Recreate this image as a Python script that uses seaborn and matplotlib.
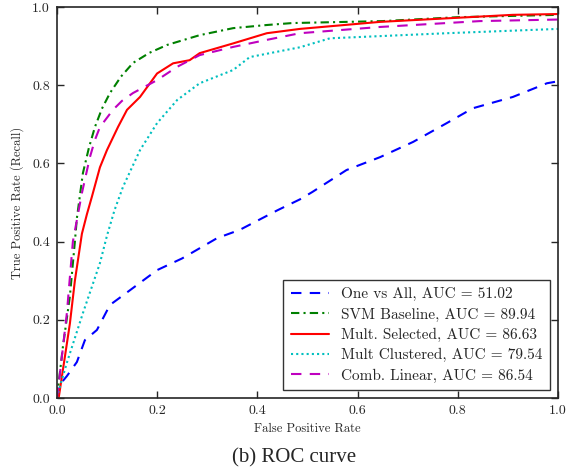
import matplotlib
matplotlib.use('Agg')
import matplotlib.pyplot as plt
import seaborn as sns
import pandas as pd

# ROC curves
ova_fpr = [0.0, 0.002, 0.02, 0.04, 0.056, 0.08, 0.106, 0.14, 0.2, 0.25, 0.32, 0.365, 0.44, 0.485,
           0.51, 0.578, 0.645, 0.711, 0.778, 0.83, 0.91, 0.978, 1.0]
ova_tpr = [0.0, 0.028, 0.056, 0.092, 0.148, 0.174, 0.238, 0.27, 0.327, 0.357, 0.409, 0.43, 0.48, 0.508,
           0.527, 0.583, 0.616, 0.655, 0.703, 0.741, 0.77, 0.805, 0.81]

svm_fpr = [0.0, 0.002, 0.012, 0.026, 0.036, 0.04, 0.052, 0.064, 0.076, 0.09, 0.106, 0.128, 0.152,
           0.185, 0.22, 0.285, 0.352, 0.419, 0.47, 0.65, 0.8, 1.0]
svm_tpr = [0.0, 0.02, 0.13, 0.26, 0.40, 0.46, 0.575, 0.64, 0.693, 0.74, 0.78, 0.822, 0.857,
           0.883, 0.903, 0.928, 0.946, 0.954, 0.959, 0.964, 0.974, 0.98]

sel_fpr = [0.0, 0.004, 0.026, 0.036, 0.05, 0.06, 0.07, 0.086, 0.1, 0.122, 0.14, 0.166, 0.183, 0.2,
           0.232, 0.265, 0.285, 0.352, 0.419, 0.485, 0.645, 0.91, 1.0]
sel_tpr = [0.0, 0.003, 0.19, 0.30, 0.42, 0.47, 0.515, 0.59, 0.634, 0.693, 0.737, 0.77, 0.80, 0.83,
           0.856, 0.864, 0.882, 0.907, 0.933, 0.944, 0.962, 0.98, 0.982]

clu_fpr = [0.0, 0.004, 0.02, 0.052, 0.086, 0.1, 0.115, 0.132, 0.166, 0.2, 0.24, 0.285, 0.352, 0.385,
           0.485, 0.545, 0.778, 1.0]
clu_tpr = [0.0, 0.02, 0.09, 0.217, 0.345, 0.415, 0.48, 0.54, 0.634, 0.703, 0.762, 0.805, 0.839, 0.872,
           0.897, 0.92, 0.933, 0.944]

lin_fpr = [0.0, 0.004, 0.02, 0.032, 0.05, 0.066, 0.076, 0.086, 0.112, 0.13, 0.152, 0.2, 0.24, 0.285,
           0.352, 0.419, 0.485, 0.645, 0.844, 1.0]
lin_tpr = [0.0, 0.038, 0.217, 0.40, 0.524, 0.616, 0.66, 0.693, 0.737, 0.76, 0.78, 0.813, 0.847, 0.877,
           0.898, 0.916, 0.933, 0.949, 0.964, 0.968]

labels = ['One vs All, AUC = 51.02', 'SVM Baseline, AUC = 89.94', 'Mult. Selected, AUC = 86.63',
          'Mult Clustered, AUC = 79.54', 'Comb. Linear, AUC = 86.54']

sns.set_style('ticks')
plt.rcParams['font.family'] = ['cmr10', 'DejaVu Serif']
plt.rcParams['axes.formatter.use_mathtext'] = True
plt.rcParams['mathtext.fontset'] = 'cm'

fig = plt.figure(figsize=(5.8, 4.68), dpi=100)
ax = fig.add_axes([0.098, 0.1496, 0.864, 0.8354])

series = [
    (ova_fpr, ova_tpr, 'b', (0, (5, 4))),
    (svm_fpr, svm_tpr, 'g', (0, (4, 2, 1, 2))),
    (sel_fpr, sel_tpr, 'r', '-'),
    (clu_fpr, clu_tpr, 'c', (0, (1, 1.5))),
    (lin_fpr, lin_tpr, 'm', (0, (5, 4))),
]
for (fx, fy, col, ls), lab in zip(series, labels):
    df = pd.DataFrame({'fpr': fx, 'tpr': fy})
    sns.lineplot(data=df, x='fpr', y='tpr', ax=ax, color=col, linestyle=ls, linewidth=1.5,
                 label=lab, estimator=None, sort=False)

ax.set_xlim(0, 1)
ax.set_ylim(0, 1)
ax.set_xticks([0, 0.2, 0.4, 0.6, 0.8, 1.0])
ax.set_yticks([0, 0.2, 0.4, 0.6, 0.8, 1.0])
ax.set_xticklabels(['0.0', '0.2', '0.4', '0.6', '0.8', '1.0'])
ax.set_yticklabels(['0.0', '0.2', '0.4', '0.6', '0.8', '1.0'])
ax.tick_params(direction='in', top=True, right=True, length=5, width=1, labelsize=10, pad=5)
for s in ax.spines.values():
    s.set_linewidth(1.2)
ax.set_xlabel('False Positive Rate', fontsize=9, labelpad=4)
ax.set_ylabel('True Positive Rate (Recall)', fontsize=9, labelpad=6)

leg = ax.legend(loc='lower right', fontsize=11, frameon=True, fancybox=False, borderaxespad=0.5,
                handlelength=2.5, labelspacing=0.4, borderpad=0.5)
leg.get_frame().set_edgecolor('black')
leg.get_frame().set_linewidth(1.0)

fig.text(0.507, 0.0128, '(b) ROC curve', ha='center', va='baseline', fontsize=15,
         family='Liberation Serif')

fig.savefig('out.png', dpi=100)
